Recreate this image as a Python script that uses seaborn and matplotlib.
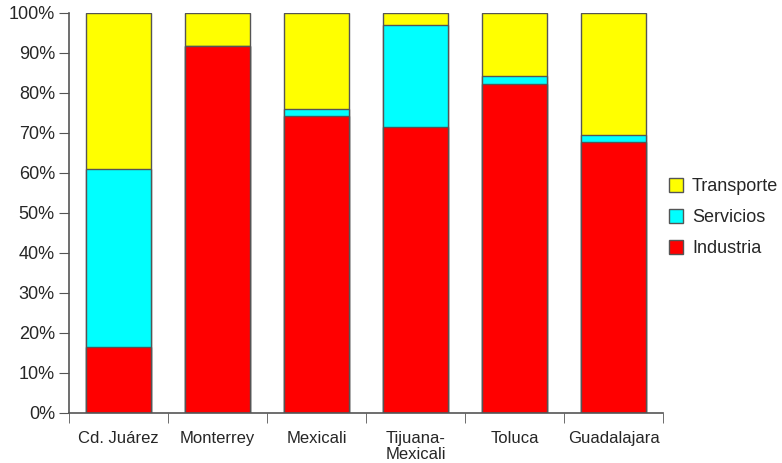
import numpy as np
import pandas as pd
import matplotlib
matplotlib.use("Agg")
import matplotlib.pyplot as plt
from matplotlib.patches import Patch
from matplotlib.ticker import FixedLocator
import seaborn as sns

# datos (porcentaje por ciudad)
ciudades = ["Cd. Juárez", "Monterrey", "Mexicali", "Tijuana-\nMexicali", "Toluca", "Guadalajara"]
industria = [16.5, 91.8, 74.3, 71.5, 82.3, 67.8]
servicios = [44.5, 0.0, 1.7, 25.5, 2.0, 1.7]
transporte = [39.0, 8.2, 24.0, 3.0, 15.7, 30.5]

sns.set_style("white")
plt.rcParams["font.family"] = ["Liberation Sans", "DejaVu Sans"]

df = pd.DataFrame({
    "Ciudad": ciudades,
    "Industria": industria,
    "Servicios": servicios,
    "Transporte": transporte,
})
df["tope_serv"] = df["Industria"] + df["Servicios"]
df["tope_trans"] = df["tope_serv"] + df["Transporte"]

fig = plt.figure(figsize=(7.82, 4.63), dpi=100)
ax = fig.add_axes([0.088, 0.108, 0.76, 0.864])

borde = "#555555"
capas = [("tope_trans", "#ffff00"), ("tope_serv", "#00ffff"), ("Industria", "#ff0000")]
for col, color in capas:
    sns.barplot(data=df, x="Ciudad", y=col, color=color, width=0.65,
                edgecolor=borde, linewidth=1.0, saturation=1, ax=ax)

ax.set_xlim(-0.5, len(ciudades) - 0.5)
ax.set_ylim(0, 100)
ax.set_yticks(np.arange(0, 101, 10))
ax.set_yticklabels([f"{v}%" for v in range(0, 101, 10)], fontsize=13)
ax.set_xlabel("")
ax.set_ylabel("")
ax.tick_params(axis="x", which="major", length=0, labelsize=12, pad=13)
for lbl in ax.get_xticklabels():
    lbl.set_linespacing(1.1)
ax.xaxis.set_minor_locator(FixedLocator(np.arange(-0.5, len(ciudades), 1)))
ax.tick_params(axis="x", which="minor", length=7, color="#555555", direction="out", bottom=True)
ax.tick_params(axis="y", length=7, color="#555555", direction="out", left=True, pad=3)
for s in ["top", "right"]:
    ax.spines[s].set_visible(False)
for s in ["left", "bottom"]:
    ax.spines[s].set_color("#555555")
    ax.spines[s].set_linewidth(1.2)

handles = [Patch(facecolor=c, edgecolor=borde, label=l)
           for l, c in [("Transporte", "#ffff00"), ("Servicios", "#00ffff"), ("Industria", "#ff0000")]]
fig.legend(handles=handles, loc="center left", bbox_to_anchor=(0.855, 0.53), frameon=False,
           fontsize=13, handlelength=0.8, handleheight=0.8, handletextpad=0.5, labelspacing=0.75,
           borderaxespad=0, borderpad=0)

fig.savefig("out.png", dpi=100)
